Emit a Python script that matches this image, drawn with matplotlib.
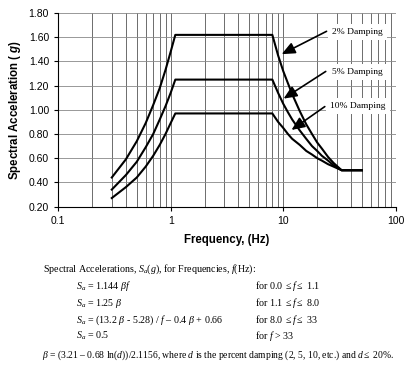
import matplotlib
matplotlib.use("Agg")
import matplotlib.pyplot as plt
from matplotlib.ticker import FixedLocator, FormatStrFormatter, NullFormatter

plt.rcParams['mathtext.fontset'] = 'custom'
plt.rcParams['mathtext.rm'] = 'Liberation Serif'
plt.rcParams['mathtext.it'] = 'Liberation Serif:italic'
plt.rcParams['mathtext.sf'] = 'Liberation Sans:italic:bold'

# frequencies (Hz) and spectral accelerations (g)
freq = [0.3, 0.4, 0.5, 0.6, 0.7, 0.8, 0.9, 1.0, 1.1, 8.0, 9.0, 10.0, 11.0, 12.0, 14.0, 16.0,
        18.0, 20.0, 22.0, 25.0, 28.0, 33.0, 50.0]
damp_2 = [0.44, 0.59, 0.74, 0.89, 1.04, 1.18, 1.33, 1.48, 1.62, 1.62, 1.45, 1.32, 1.22, 1.13,
          0.99, 0.88, 0.80, 0.73, 0.68, 0.61, 0.56, 0.50, 0.50]
damp_5 = [0.34, 0.46, 0.57, 0.69, 0.80, 0.92, 1.03, 1.14, 1.25, 1.25, 1.14, 1.05, 0.98, 0.92,
          0.83, 0.76, 0.70, 0.66, 0.62, 0.58, 0.54, 0.50, 0.50]
damp_10 = [0.27, 0.36, 0.44, 0.53, 0.62, 0.71, 0.80, 0.89, 0.97, 0.97, 0.90, 0.85, 0.80, 0.76,
           0.71, 0.66, 0.63, 0.60, 0.58, 0.55, 0.53, 0.50, 0.50]

labels = ["2% Damping", "5% Damping", "10% Damping"]
label_pos = [(27.0, 1.645), (27.0, 1.314), (26.0, 1.033)]
arrow_tail = [(25.5, 1.66), (25.0, 1.33), (24.5, 1.04)]
arrow_tip = [(9.2, 1.45), (9.6, 1.08), (11.3, 0.82)]

fig = plt.figure(figsize=(4.06, 3.86), dpi=100)
ax = fig.add_axes([0.143, 0.465, 0.832, 0.501])

for vals in (damp_2, damp_5, damp_10):
    ax.plot(freq, vals, color="black", lw=1.5)

ax.set_xscale("log")
ax.set_xlim(0.1, 100)
ax.set_ylim(0.2, 1.8)
ax.yaxis.set_major_locator(FixedLocator([0.2, 0.4, 0.6, 0.8, 1.0, 1.2, 1.4, 1.6, 1.8]))
ax.yaxis.set_major_formatter(FormatStrFormatter("%.2f"))
ax.xaxis.set_major_locator(FixedLocator([0.1, 1, 10, 100]))
ax.xaxis.set_major_formatter(FormatStrFormatter("%g"))
ax.xaxis.set_minor_formatter(NullFormatter())

ax.grid(True, which="both", axis="x", color="#555555", lw=0.6)
ax.grid(True, which="major", axis="y", color="#888888", lw=0.6)
ax.tick_params(which="minor", length=0)
ax.tick_params(which="major", length=3, labelsize=7.5, direction="out")
for lbl in ax.get_xticklabels() + ax.get_yticklabels():
    lbl.set_family("Liberation Sans")
ax.spines["top"].set_visible(False)
ax.spines["right"].set_visible(False)

ax.set_xlabel("Frequency, (Hz)", family="Liberation Sans", fontweight="bold", fontsize=8.3, labelpad=6)
ax.set_ylabel(r"Spectral Acceleration ( $\mathsf{g}$)", family="Liberation Sans", fontweight="bold", fontsize=8.3)

for txt, pos, tail, tip in zip(labels, label_pos, arrow_tail, arrow_tip):
    ax.text(pos[0], pos[1], txt, family="Liberation Serif", fontsize=6.8, va="center", ha="left",
            bbox=dict(facecolor="white", edgecolor="none", pad=3), zorder=4)
    ax.annotate("", xy=tip, xytext=tail, zorder=5,
                arrowprops=dict(arrowstyle="-|>,head_width=0.35,head_length=0.8",
                                color="black", lw=1.2, mutation_scale=10))

# formula block below the chart
serif = dict(family="Liberation Serif", fontsize=7.2, va="center")
fig.text(43/406, 1 - 269/386, r"Spectral Accelerations, $S_a$($g$), for Frequencies, $f$(Hz):", **serif)
rows = [
    (r"$S_a$ = 1.144 $\beta f$", r"for 0.0 $\leq f \leq$ 1.1"),
    (r"$S_a$ = 1.25 $\beta$", r"for 1.1 $\leq f \leq$ 8.0"),
    (r"$S_a$ = (13.2 $\beta$ - 5.28) / $f$ – 0.4 $\beta$ + 0.66", r"for 8.0 $\leq f \leq$ 33"),
    (r"$S_a$ = 0.5", r"for $f$ > 33"),
]
row_y = [286, 303, 320, 336]
for (left, right), y in zip(rows, row_y):
    fig.text(76/406, 1 - y/386, left, **serif)
    fig.text(255/406, 1 - y/386, right, **serif)
serif_small = dict(serif, fontsize=6.9)
fig.text(42/406, 1 - 355/386,
         r"$\beta$ = (3.21 – 0.68 ln($d$))/2.1156, where $d$ is the percent damping (2, 5, 10, etc.) and $d \leq$ 20%.",
         **serif_small)

fig.savefig("out.png", dpi=100)
